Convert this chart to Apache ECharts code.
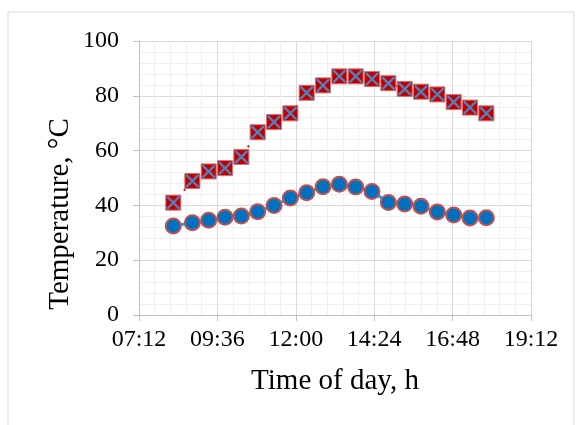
<!DOCTYPE html>
<html>
<head>
<meta charset="utf-8">
<title>Temperature vs time of day</title>
<script src="https://cdn.jsdelivr.net/npm/echarts@6/dist/echarts.min.js"></script>
<style>
  html, body { margin: 0; padding: 0; background: #fff; }
  #chart { width: 580px; height: 425px; }
</style>
</head>
<body>
<div id="chart"></div>
<script>
// time of each reading (hh:mm)
const times = ['08:15', '08:50', '09:20', '09:50', '10:20', '10:50', '11:20', '11:50', '12:20', '12:50',
  '13:20', '13:50', '14:20', '14:50', '15:20', '15:50', '16:20', '16:50', '17:20', '17:50']

// red squares with cross
const upperTemp = [41.0, 48.9, 52.4, 53.6, 57.7, 66.7, 70.4, 73.6, 81.1, 83.8,
  87.1, 87.1, 86.1, 84.6, 82.5, 81.5, 80.5, 77.7, 75.7, 73.6]

// blue circles
const lowerTemp = [32.5, 33.7, 34.6, 35.7, 36.1, 37.7, 40.0, 42.7, 44.6, 46.8,
  47.7, 46.7, 45.1, 41.1, 40.5, 39.7, 37.6, 36.5, 35.4, 35.5]

const xTicks = ['07:12', '09:36', '12:00', '14:24', '16:48', '19:12']

const toHours = s => {
  const [h, m] = s.split(':').map(Number)
  return h + m / 60
}
const fmtTime = v => {
  const total = Math.round(v * 60)
  const h = Math.floor(total / 60)
  const m = total % 60
  return String(h).padStart(2, '0') + ':' + String(m).padStart(2, '0')
}

const hours = times.map(toHours)
const upperData = hours.map((h, i) => [h, upperTemp[i]])
const lowerData = hours.map((h, i) => [h, lowerTemp[i]])

const font = '"Liberation Serif", "Times New Roman", serif'
const crossPath = 'path://M0,0L1.3,0L10,8.7L10,10L8.7,10L0,1.3Z M8.7,0L10,0L10,1.3L1.3,10L0,10L0,8.7Z'

const chart = echarts.init(document.getElementById('chart'), null, { renderer: 'canvas' })

const option = {
  animation: false,
  backgroundColor: '#fff',
  textStyle: { fontFamily: font },
  grid: {
    left: 139,
    right: 49,
    top: 41,
    bottom: 110
  },
  graphic: [
    {
      type: 'rect',
      shape: { x: 8, y: 12, width: 566, height: 440 },
      style: { fill: 'none', stroke: '#d9d9d9', lineWidth: 1 },
      silent: true
    },
    {
      type: 'text',
      x: 60,
      y: 214,
      rotation: Math.PI / 2,
      style: {
        text: 'Temperature, °C',
        font: '29px ' + font,
        fill: '#000',
        textAlign: 'center',
        textVerticalAlign: 'middle'
      },
      silent: true
    }
  ],
  xAxis: {
    type: 'value',
    min: toHours(xTicks[0]),
    max: toHours(xTicks[xTicks.length - 1]),
    interval: 2.4,
    name: 'Time of day, h',
    nameLocation: 'middle',
    nameGap: 52,
    nameTextStyle: { fontFamily: font, fontSize: 29, color: '#000' },
    axisLine: { show: true, lineStyle: { color: '#bfbfbf', width: 1 } },
    axisTick: { show: true, length: 6, lineStyle: { color: '#bfbfbf' } },
    axisLabel: {
      margin: 13,
      fontFamily: font,
      fontSize: 24,
      color: '#000',
      formatter: v => fmtTime(v)
    },
    splitLine: { show: true, lineStyle: { color: '#d9d9d9', width: 1 } },
    minorTick: { show: false, splitNumber: 5 },
    minorSplitLine: { show: true, lineStyle: { color: '#efefef', width: 1 } }
  },
  yAxis: {
    type: 'value',
    min: 0,
    max: 100,
    interval: 20,
    axisLine: { show: true, lineStyle: { color: '#bfbfbf', width: 1 } },
    axisTick: { show: true, length: 6, lineStyle: { color: '#bfbfbf' } },
    axisLabel: {
      margin: 20,
      fontFamily: font,
      fontSize: 24,
      color: '#000'
    },
    splitLine: { show: true, lineStyle: { color: '#d9d9d9', width: 1 } },
    minorTick: { show: false, splitNumber: 5 },
    minorSplitLine: { show: true, lineStyle: { color: '#efefef', width: 1 } }
  },
  series: [
    {
      name: 'lower',
      type: 'line',
      data: lowerData,
      symbol: 'circle',
      symbolSize: 15,
      lineStyle: { color: '#00b0f0', width: 3 },
      itemStyle: { color: '#0070c0', borderColor: '#c0504d', borderWidth: 2 },
      z: 3
    },
    {
      name: 'upper',
      type: 'line',
      data: upperData,
      symbol: 'rect',
      symbolSize: 15,
      lineStyle: { color: '#ff0000', width: 2, type: [2, 14] },
      itemStyle: { color: '#c00000', borderColor: '#d9706e', borderWidth: 1 },
      z: 3
    },
    {
      name: 'upper-cross',
      type: 'scatter',
      data: upperData,
      symbol: crossPath,
      symbolSize: 13,
      itemStyle: { color: '#4f81bd', opacity: 1 },
      silent: true,
      z: 4
    }
  ]
}

chart.setOption(option)

window.addEventListener('resize', () => chart.resize())
</script>
</body>
</html>
